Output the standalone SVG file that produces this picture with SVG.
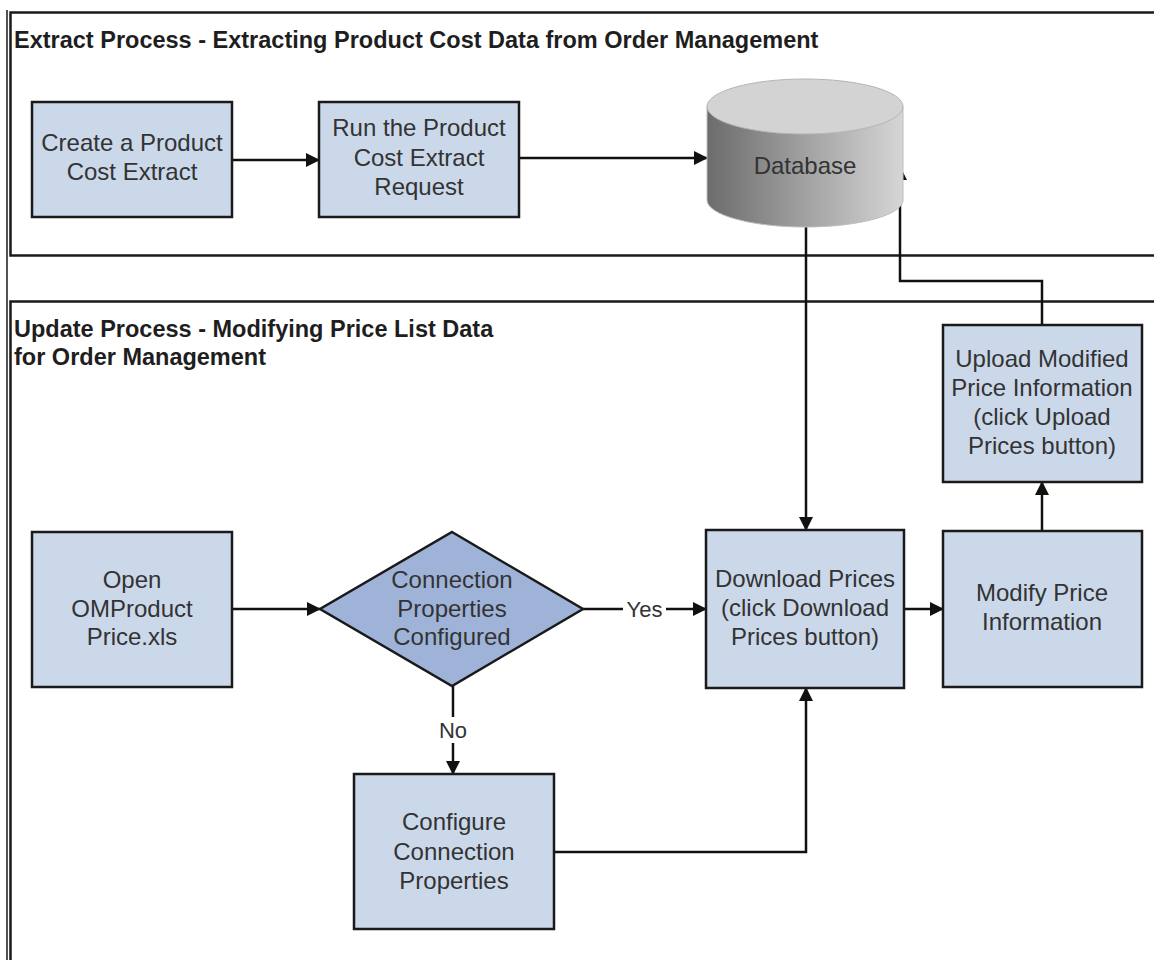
<svg xmlns="http://www.w3.org/2000/svg" width="1154" height="960" viewBox="0 0 1154 960">
<style>
.sec{fill:#fff;stroke:#1a1a1a;stroke-width:2.5}
.title{font-family:"Liberation Sans",Arial,sans-serif;font-size:23.5px;font-weight:bold;fill:#1e1e1e}
.box{fill:#cbd8ea;stroke:#1a1a1a;stroke-width:2.5}
.dia{fill:#9fb3d9;stroke:#1a1a1a;stroke-width:2.5}
.lbl{font-family:"Liberation Sans",Arial,sans-serif;font-size:24px;fill:#333;text-anchor:middle}
.small{font-family:"Liberation Sans",Arial,sans-serif;font-size:22px;fill:#333;text-anchor:middle}
.con{fill:none;stroke:#111;stroke-width:2.5}
</style>
<defs>
<marker id="arr" markerUnits="userSpaceOnUse" markerWidth="14" markerHeight="14" refX="13" refY="7" orient="auto">
<path d="M0,0 L14,7 L0,14 Z" fill="#111"/>
</marker>
<linearGradient id="cyl" x1="0" y1="0" x2="1" y2="0">
<stop offset="0" stop-color="#6c6c6c"/>
<stop offset="1" stop-color="#d6d6d6"/>
</linearGradient>
</defs>
<rect x="0" y="0" width="1154" height="960" fill="#fff"/>
<g id="frame">
<line x1="7" y1="10" x2="7" y2="960" stroke="#1a1a1a" stroke-width="1.5"/>
<rect class="sec" x="10.5" y="12.5" width="1160" height="243"/>
<rect class="sec" x="10.5" y="301.5" width="1160" height="680"/>
<text class="title" x="14" y="48">Extract Process - Extracting Product Cost Data from Order Management</text>
<text class="title" x="14" y="337">Update Process - Modifying Price List Data</text>
<text class="title" x="14" y="365">for Order Management</text>
</g>
<g id="connectors">
<line class="con" x1="232" y1="160" x2="319" y2="160" marker-end="url(#arr)"/>
<line class="con" x1="519" y1="158" x2="707" y2="158" marker-end="url(#arr)"/>
<line class="con" x1="806" y1="227" x2="806" y2="530" marker-end="url(#arr)"/>
<polyline class="con" points="1042,325 1042,281 900,281 900,167" marker-end="url(#arr)"/>
<line class="con" x1="232" y1="609" x2="320" y2="609" marker-end="url(#arr)"/>
<line class="con" x1="583" y1="609" x2="706" y2="609" marker-end="url(#arr)"/>
<rect x="623" y="596" width="43" height="26" fill="#fff"/>
<text class="small" x="644.5" y="617">Yes</text>
<line class="con" x1="904" y1="609" x2="943" y2="609" marker-end="url(#arr)"/>
<line class="con" x1="1042" y1="531" x2="1042" y2="482" marker-end="url(#arr)"/>
<line class="con" x1="453" y1="686" x2="453" y2="774" marker-end="url(#arr)"/>
<rect x="437" y="717" width="32" height="26" fill="#fff"/>
<text class="small" x="453" y="738">No</text>
<polyline class="con" points="554,852 806,852 806,688" marker-end="url(#arr)"/>
</g>
<g id="create-extract">
<rect class="box" x="32" y="102" width="200" height="115"/>
<text class="lbl" x="132" y="151">Create a Product</text>
<text class="lbl" x="132" y="180">Cost Extract</text>
</g>
<g id="run-request">
<rect class="box" x="319" y="102" width="200" height="115"/>
<text class="lbl" x="419" y="136">Run the Product</text>
<text class="lbl" x="419" y="166">Cost Extract</text>
<text class="lbl" x="419" y="195">Request</text>
</g>
<g id="database">
<path d="M707,106.5 L707,200 A98,27 0 0 0 903,200 L903,106.5 Z" fill="url(#cyl)" stroke="#bdbdbd" stroke-width="1"/>
<ellipse cx="805" cy="106.5" rx="98" ry="27.5" fill="#d3d3d3" stroke="#b5b5b5" stroke-width="1"/>
<text class="lbl" x="805" y="174">Database</text>
</g>
<g id="open-file">
<rect class="box" x="32" y="532" width="200" height="155"/>
<text class="lbl" x="132" y="588">Open</text>
<text class="lbl" x="132" y="617">OMProduct</text>
<text class="lbl" x="132" y="645">Price.xls</text>
</g>
<g id="decision">
<polygon class="dia" points="452,532 583,609 452,686 320,609"/>
<text class="lbl" x="452" y="588">Connection</text>
<text class="lbl" x="452" y="617">Properties</text>
<text class="lbl" x="452" y="645">Configured</text>
</g>
<g id="download">
<rect class="box" x="706" y="530" width="198" height="158"/>
<text class="lbl" x="805" y="587">Download Prices</text>
<text class="lbl" x="805" y="616">(click Download</text>
<text class="lbl" x="805" y="645">Prices button)</text>
</g>
<g id="modify">
<rect class="box" x="943" y="531" width="199" height="156"/>
<text class="lbl" x="1042" y="601">Modify Price</text>
<text class="lbl" x="1042" y="630">Information</text>
</g>
<g id="upload">
<rect class="box" x="943" y="325" width="199" height="157"/>
<text class="lbl" x="1042" y="367">Upload Modified</text>
<text class="lbl" x="1042" y="396">Price Information</text>
<text class="lbl" x="1042" y="425">(click Upload</text>
<text class="lbl" x="1042" y="454">Prices button)</text>
</g>
<g id="configure">
<rect class="box" x="354" y="774" width="200" height="155"/>
<text class="lbl" x="454" y="830">Configure</text>
<text class="lbl" x="454" y="860">Connection</text>
<text class="lbl" x="454" y="889">Properties</text>
</g>
</svg>
